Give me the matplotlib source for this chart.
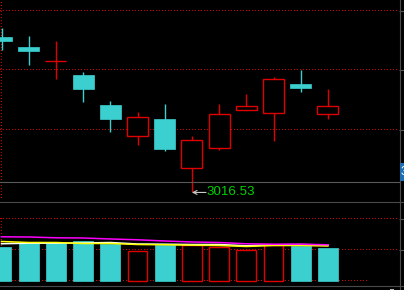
import matplotlib
matplotlib.use("Agg")
import matplotlib.pyplot as plt
from matplotlib.patches import Rectangle
from matplotlib.lines import Line2D

# ---------------- data ----------------
opens  = [3173.0, 3162.9, 3149.4, 3134.6, 3104.3, 3073.9, 3090.1, 3041.3, 3061.5, 3099.9, 3096.5, 3125.5, 3095.9]
closes = [3169.0, 3158.8, 3149.4, 3120.4, 3090.1, 3093.1, 3060.1, 3069.6, 3095.9, 3103.9, 3131.3, 3121.4, 3103.9]
highs  = [3182.1, 3174.0, 3169.0, 3137.6, 3108.3, 3097.2, 3105.3, 3073.0, 3105.3, 3115.7, 3132.6, 3139.6, 3120.4]
lows   = [3159.9, 3144.7, 3130.5, 3107.3, 3077.0, 3064.5, 3058.0, 3016.53, 3059.5, 3099.9, 3068.9, 3117.4, 3090.1]
candle_up = [False, False, True, False, False, True, False, True, True, True, True, False, True]

volumes = [3290, 3610, 3610, 3775, 3515, 2875, 3435, 3455, 3225, 2970, 3435, 3320, 3100]
volume_up = [False, False, False, False, False, True, False, True, True, True, True, False, False]
ma_magenta = [4230, 4211, 4133, 4114, 4017, 3940, 3824, 3727, 3678, 3553, 3514, 3514, 3456]
ma_yellow  = [3775, 3678, 3678, 3582, 3582, 3485, 3456, 3417, 3388, 3291, 3388, 3388, 3340]
ma_white   = [3553, 3611, 3611, 3630, 3678, 3533, 3514, 3485, 3485, 3359, 3456, 3485, 3436]

price_grid = [3200, 3140.5, 3080]
volume_grid = [3000, 6000]
low_index = 7

# ---------------- style ----------------
CYAN = '#3ccfcf'
RED = '#e00000'
GRID_RED = '#d40000'
GRAY = '#555555'
DOT = (0, (1, 2))
W, H = 404, 290

fig = plt.figure(figsize=(W / 100, H / 100), dpi=100, facecolor='black')

def fx(px):
    return px / W

def fy(py):
    return 1 - py / H

ax = fig.add_axes([0, fy(201), fx(399), 201 / H])
axv = fig.add_axes([0, fy(285), fx(399), 84 / H])

n = len(opens)
xs = list(range(n))
xlim = (-1.5 / 27.2, (399 - 1.5) / 27.2)

for a in (ax, axv):
    a.set_facecolor('black')
    a.set_xlim(*xlim)
    for s in a.spines.values():
        s.set_visible(False)
    a.set_xticks([])
    a.yaxis.tick_right()
    a.tick_params(axis='y', direction='out', length=3.6, width=0.8, color=GRAY,
                  labelright=False, labelleft=False, left=False)

def dotted_h(a, y, **kw):
    a.axhline(y, color=GRID_RED, lw=0.72, linestyle=DOT, snap=False, zorder=0, **kw)

def dotted_v(a, x, ymin, ymax):
    a.axvline(x, ymin=ymin, ymax=ymax, color=GRID_RED, lw=0.72, linestyle=DOT,
              snap=False, zorder=0)

# price panel: 3200 -> pixel row 10 centre, 119 px per 120 points
k = 120 / 119
top_price = 3200 + 10.5 * k
ax.set_ylim(top_price - 201 * k, top_price)
ax.set_yticks(price_grid)
for g in price_grid:
    dotted_h(ax, g)
dotted_v(ax, 0, 3 / 201, 1)

bw = 0.77
for i in xs:
    o, c, h, l = opens[i], closes[i], highs[i], lows[i]
    top, bot = max(o, c), min(o, c)
    if candle_up[i]:
        ax.vlines(i, top, h, color=RED, lw=1.0, zorder=2)
        ax.vlines(i, l, bot, color=RED, lw=1.0, zorder=2)
        ax.add_patch(Rectangle((i - bw / 2, bot), bw, top - bot, facecolor='black',
                               edgecolor=RED, lw=1.0, zorder=3))
    else:
        ax.vlines(i, l, h, color=CYAN, lw=1.0, zorder=2)
        ax.add_patch(Rectangle((i - bw / 2, bot), bw, top - bot, facecolor=CYAN,
                               edgecolor=CYAN, lw=0.5, zorder=3))

# low marker
lo = lows[low_index]
ax.annotate('', xy=(low_index, lo), xytext=(low_index + 0.52, lo),
            arrowprops=dict(arrowstyle='->', color='#c8c8c8', lw=0.8,
                            shrinkA=0, shrinkB=0, mutation_scale=7), zorder=5)
ax.text(low_index + 0.55, lo, f'{lo:.2f}', color='#00d000', fontsize=9.6,
        va='center', ha='left', family=['Liberation Sans', 'DejaVu Sans'], zorder=5)

# volume panel: 0 -> pixel row 280 centre, 3000 per 31 px
vscale = 3000 / 31
axv.set_ylim(-4.5 * vscale, 79.5 * vscale)
axv.set_yticks(volume_grid)
for g in volume_grid:
    dotted_h(axv, g)
axv.hlines(0, xlim[0], 13.5, color=GRID_RED, lw=0.72, linestyle=DOT, snap=False, zorder=0)
dotted_v(axv, 0, 3 / 84, 67 / 84)

vw = 0.735
for i in xs:
    if volume_up[i]:
        axv.add_patch(Rectangle((i - vw / 2, 0), vw, volumes[i], facecolor='black',
                                edgecolor=RED, lw=1.0, zorder=2))
    else:
        axv.add_patch(Rectangle((i - vw / 2, 0), vw, volumes[i], facecolor=CYAN,
                                edgecolor=CYAN, lw=0.5, zorder=2))

axv.plot(xs, ma_white, color='white', lw=1.1, zorder=4)
axv.plot(xs, ma_yellow, color='#ffff00', lw=1.1, zorder=4)
axv.plot(xs, ma_magenta, color='#ff00ff', lw=1.1, zorder=4)

# frame lines (figure level)
def hline_px(y, x0, x1, color=GRAY, lw=1.0):
    fig.add_artist(Line2D([fx(x0), fx(x1)], [fy(y), fy(y)], color=color, lw=lw,
                          transform=fig.transFigure, zorder=6))

hline_px(181.5, 0, 399.5, color='#5a5a5a', lw=0.8)
hline_px(201.5, 0, 404, color='#4a4a4a', lw=0.8)
hline_px(285.5, 0, 404, color='#4a4a4a', lw=0.8)
fig.add_artist(Line2D([fx(399.5), fx(399.5)], [0, 1], color='#4a4a4a', lw=0.8,
                      transform=fig.transFigure, zorder=6))

# right-side price tag (cut off at the figure edge, as in the reference)
fig.add_artist(Rectangle((fx(400), fy(181)), fx(4), 18 / H, facecolor='#1e6eb4',
                         edgecolor='none', transform=fig.transFigure, zorder=7))
fig.text(fx(400.5), fy(172), '3', color='white', fontsize=8.5, va='center', ha='left',
         family=['Liberation Sans', 'DejaVu Sans'], zorder=8)
fig.add_artist(Rectangle((fx(390), 0), fx(4), 1.5 / H, facecolor='#b0b0b0',
                         edgecolor='none', transform=fig.transFigure, zorder=7))

fig.savefig('out.png', dpi=100, facecolor='black')
